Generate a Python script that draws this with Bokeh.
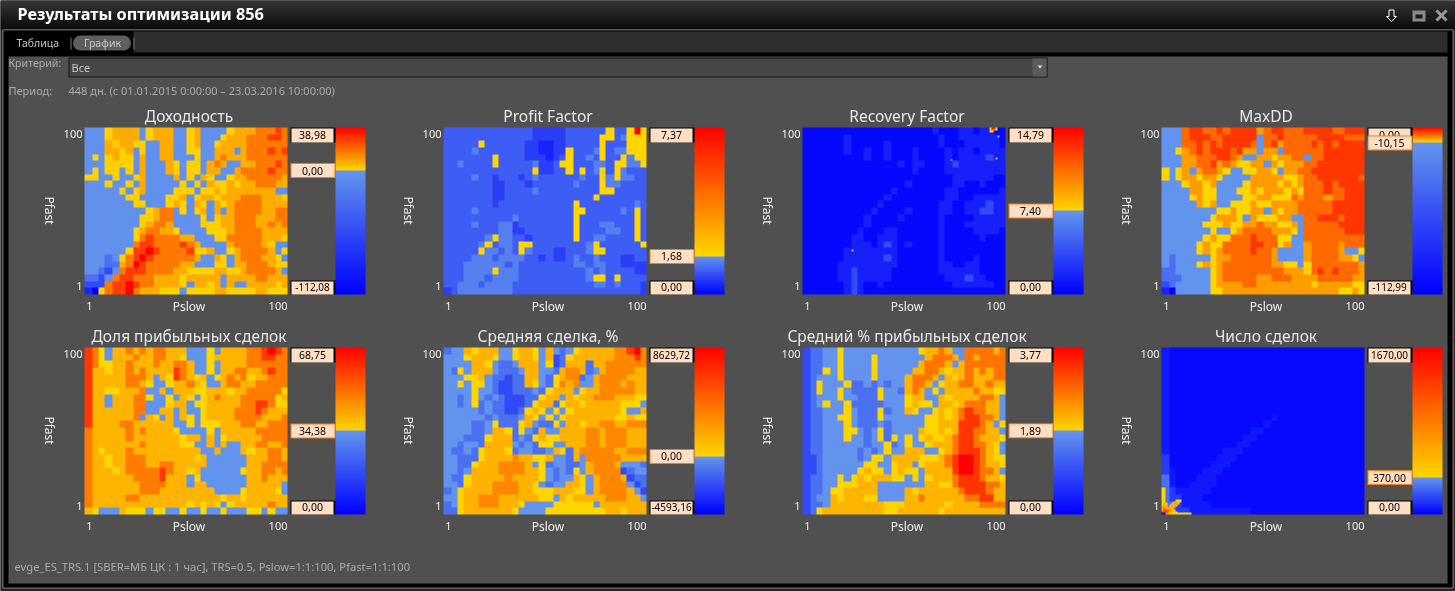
import math
import numpy as np
from bokeh.plotting import figure
from bokeh.models import LinearColorMapper, Range1d
from bokeh.core.properties import value
from bokeh.embed import file_html
from bokeh.resources import INLINE

WINDOW_TITLE = "Результаты оптимизации 856"
TABS = ["Таблица", "График"]
CRITERION_LABEL = "Критерий:"
CRITERION = "Все"
PERIOD_LABEL = "Период:"
PERIOD = "448 дн. (с 01.01.2015 0:00:00 – 23.03.2016 10:00:00)"
FOOTER = "evge_ES_TRS.1 [SBER=МБ ЦК : 1 час], TRS=0.5, Pslow=1:1:100, Pfast=1:1:100"
X_NAME = "Pslow"
Y_NAME = "Pfast"
TICKS = ["1", "100"]

TITLES = ["Доходность", "Profit Factor", "Recovery Factor", "MaxDD",
          "Доля прибыльных сделок", "Средняя сделка, %", "Средний % прибыльных сделок", "Число сделок"]
SCALE_LOW = [-112.08, 0.0, 0.0, -112.99, 0.0, -4593.16, 0.0, 0.0]
SCALE_MID = [0.0, 1.68, 7.40, -10.15, 34.38, 0.0, 1.89, 370.0]
SCALE_HIGH = [38.98, 7.37, 14.79, 0.0, 68.75, 8629.72, 3.77, 1670.0]
SCALE_TEXT = [("-112,08", "0,00", "38,98"), ("0,00", "1,68", "7,37"), ("0,00", "7,40", "14,79"),
              ("-112,99", "-10,15", "0,00"), ("0,00", "34,38", "68,75"), ("-4593,16", "0,00", "8629,72"),
              ("0,00", "1,89", "3,77"), ("0,00", "370,00", "1670,00")]

# Value read for each symbol of a grid, panel by panel (symbols 0..9)
VALUES_RETURN = [-112, -84, -56, -28, -3, 1, 8, 17, 28, 39]
VALUES_PF = [0.0, 0.4, 0.7, 1.05, 1.45, 1.7, 3.1, 4.5, 6.0, 7.37]
VALUES_RF = [0.4, 1.6, 3.7, 5.5, 7.3, 7.5, 9.2, 11.0, 13.0, 14.79]
VALUES_DD = [-113, -87, -62, -36, -11, -10, -7.5, -5, -2.5, 0]
VALUES_SHARE = [0, 8.6, 17.2, 25.8, 34, 34.6, 40, 49, 60, 68.75]
VALUES_AVG = [-4593, -3445, -2297, -1148, -50, 50, 1500, 3200, 6472, 8630]
VALUES_AVGWIN = [0, 0.47, 0.94, 1.42, 1.87, 1.9, 2.2, 2.75, 3.3, 3.77]
VALUES_COUNT = [20, 60, 150, 277, 365, 375, 695, 1020, 1345, 1670]

# Block readings, first row is Pfast=100, first column is Pslow=1
GRID_RETURN = """
44456 66645 66644 56444 45666 77787
44456 66645 66644 56444 56667 77887
44465 66554 46644 56445 66667 77777
44466 56454 46644 55446 66467 77878
45456 55464 46644 45446 76667 77777
44455 55464 44654 55467 64466 77787
45455 45464 44654 55466 44677 77877
55445 44564 44464 54654 45667 77776
44454 45464 44445 45465 56566 77766
44444 54564 44455 54556 56666 66644
44444 45544 44556 45665 66677 76665
44444 44554 44565 46546 56777 76666
44444 44445 67745 45646 46777 76677
44444 44455 67744 44545 66777 66677
44444 44456 77644 44555 66777 66767
44444 44567 76654 44455 56777 76666
44444 44578 77776 64445 57777 76665
44444 44788 77778 76444 46777 76544
44444 45889 87777 85564 45677 77645
44434 57898 77777 76446 54677 76654
44433 67987 77776 64445 54667 77655
44324 78887 77766 55556 65567 77764
33247 88777 66665 66666 46666 77666
22278 89877 66665 46656 46446 66656
10578 89766 65554 55556 65555 66555
"""
GRID_PF = """
33333 33333 33322 22233 33335 33595
33333 33333 33322 22233 33355 34555
33333 53333 33221 12233 33353 33555
33334 33333 33221 12253 33453 44555
33333 33533 33222 12353 34353 35455
33433 33533 33342 23553 33443 55445
33333 33333 33352 23353 53453 54333
33334 33233 32343 33333 43354 54433
33333 33223 33233 33334 33354 43333
33333 33223 33343 33333 33355 33333
33333 33223 33333 33333 33533 33333
33333 33233 33333 33335 33333 33343
33334 33333 33333 33335 53333 34353
33333 33333 43333 33335 33333 33353
33334 33344 23333 33335 33344 33353
33333 33344 22333 33335 33334 43353
33333 34544 33233 33335 33443 33353
33333 45344 35533 33333 34533 33335
33333 54434 35433 32233 34553 33333
33334 44344 44332 32234 33433 32233
33344 44443 43333 33334 43443 32222
33344 44544 43333 33333 34343 33322
33344 43444 43333 33333 34553 53333
33444 34444 33333 33333 33443 43332
23444 44444 33333 33333 33333 33332
"""
GRID_RF = """
00000 00000 00000 00001 00011 01100
00000 01000 00000 00000 10011 11110
00000 01000 00100 00000 10001 11110
00000 01001 00100 01000 01011 01111
00000 00001 00100 01000 01011 11211
00000 00000 00001 01100 01211 11111
00000 00000 00000 01000 01111 11111
00000 00000 00000 00000 00111 11100
00000 00000 00000 10000 00110 01000
00000 00000 00010 00000 01100 00001
00000 00000 00100 00000 01100 11111
00000 00000 01000 00000 11001 11211
00000 00000 10000 10000 11001 12211
00000 00001 00001 00000 10000 11111
00000 00001 00000 00000 10001 11111
00000 00010 00110 00000 10000 11110
00000 00110 01110 00000 10000 01000
00000 00111 01210 10000 10000 00000
00000 01111 11110 00000 10000 00000
00000 01111 11210 00000 10000 10000
00000 11111 11110 00000 11001 10000
00000 11211 11100 00000 11111 10000
00000 11211 11100 00000 01112 11000
00000 01210 01000 00000 00111 11100
00000 01210 00000 00000 00000 00000
"""
GRID_DD = """
44478 87787 88886 78877 78888 77888
44478 88778 88884 77877 77788 88777
44477 87878 88874 78677 77878 78888
44567 87888 78664 66477 77778 88888
44466 77788 76446 65667 74778 88888
44466 77867 65566 46566 67788 88888
54564 67765 44556 65466 77888 88888
54566 56654 44466 66655 67788 88887
44456 65644 44566 66565 67778 78888
44446 65544 45565 66656 57778 77888
44445 65544 44556 65557 67776 77888
44444 65644 55565 56666 77777 88888
44444 44455 65566 46566 77777 88888
44444 44566 65465 55664 47788 87888
44444 45556 55667 66556 47777 78888
44444 44544 56777 76665 47777 77888
44444 45655 77787 77554 47777 77777
44444 56557 77788 77564 46777 76777
44444 56567 77787 76444 46777 76445
43444 44566 77777 76444 46777 76654
43444 56567 77777 76655 45777 77776
33444 44567 77777 77766 65787 87776
33344 44567 77776 67776 66677 77766
23444 44566 66776 66666 66566 66655
10444 44556 66666 66666 66666 65565
"""
GRID_SHARE = """
87546 67676 77666 44454 66667 78987
87546 66766 77665 44456 66667 78877
87556 67666 76677 64454 66667 77777
86656 67676 66687 64454 66776 67877
86666 67776 46587 65645 67675 66777
86666 67765 44566 76544 67766 77777
86655 66674 46466 65566 65667 77775
86646 66775 44546 54567 66677 77756
86646 66774 44566 45566 66677 88755
86666 66774 46646 44566 66777 87666
86666 66746 54646 54566 66777 76667
86666 77666 66644 54555 66677 66777
76666 67676 66654 44454 66666 77777
76666 67666 66665 66464 56666 67777
76666 66676 66665 54464 64466 77667
76566 67666 66666 66446 44465 66776
76656 67776 66666 65644 44446 66776
76656 67776 67766 66644 44446 67777
76665 67777 78766 56444 44456 67767
76666 66777 78666 45444 44446 67666
76666 66677 77666 46644 44446 66664
76666 66677 76666 66664 44456 66654
76666 67766 66666 66666 56656 66666
76666 66666 66666 56565 45666 66766
65444 65554 55445 44544 54445 54544
"""
GRID_AVG = """
34465 66644 56654 64345 66666 77897
44456 66544 56654 62356 66666 77787
44446 65433 46664 52366 63667 77777
43546 66433 34664 43677 63467 77766
44455 64332 33664 35677 34677 77666
44545 54322 33654 35767 44677 76766
44445 44322 33343 56664 56677 77766
44345 43432 22335 66465 66777 66655
44345 34332 22356 63566 56666 65554
44444 34332 23565 45456 66666 65446
44444 43433 34654 54566 66666 55655
44443 34533 35643 35466 56677 66777
44443 34665 35436 44666 67767 77666
44433 35666 34356 55666 67767 77666
44344 36666 43435 54466 67767 77666
43343 56665 34433 46536 77777 66777
44333 56666 76655 64436 47777 76666
44335 66677 77645 34433 46777 64443
44346 66677 77665 43435 46777 72344
43356 66667 66665 43446 54677 76233
44356 66777 76654 34466 54677 77423
34566 66777 76655 56665 54677 77642
44566 77766 66665 54656 66667 77664
34566 77766 65444 45555 55466 66666
33566 66666 54444 55555 55556 65666
"""
GRID_AVGWIN = """
23344 54444 44444 44566 76447 77767
23344 54444 54444 44467 77647 67777
23344 54444 54444 44677 76467 77777
23354 54444 54444 46677 65667 67677
23444 54444 54444 67776 46567 66677
23544 45334 34344 67764 56677 66766
23544 54333 35443 67645 46666 76655
23444 54433 35444 56644 65666 67764
23454 45333 33444 56554 66567 77664
23344 45433 35344 65445 65678 77664
23344 55433 35444 44455 65678 87764
23344 45433 34344 44455 66688 87645
23344 45543 45344 44655 65688 77664
23344 45443 45354 54565 56788 76665
23344 44443 44534 54456 66788 77654
23344 44434 34544 66644 56788 87654
22344 44434 55466 66555 67899 87655
22344 44445 54456 64566 67899 87665
22344 44456 55456 55466 66899 87764
23344 54565 66655 45456 66788 87665
23344 55566 64444 44466 55788 88776
23345 56666 64444 65666 66678 88766
23446 56665 54444 66766 66667 78866
23346 66666 66555 66666 65666 67777
23566 66666 66556 66666 56666 66666
"""
GRID_COUNT = """
10000 00000 00000 00000 00000 00000
10000 00000 00000 00000 00000 00000
10000 00000 00000 00000 00000 00000
10000 00000 00000 00000 00000 00000
10000 00000 00000 00000 00000 00000
10000 00000 00000 00000 00000 00000
10000 00000 00000 00000 00000 00000
10000 00000 00000 00000 00000 00000
10000 00000 00000 00000 00000 00000
10000 00000 00000 00000 00000 00000
10000 00000 00000 01000 00000 00000
10000 00000 00000 10000 00000 00000
10000 00000 00011 00000 00000 00000
10000 00000 00110 00000 00000 00000
10000 00000 01100 00000 00000 00000
10000 00001 11000 00000 00000 00000
20000 00011 10000 00000 00000 00000
20000 00111 00000 00000 00000 00000
21000 01110 00000 00000 00000 00000
31000 11100 00000 00000 00000 00000
31001 11100 00000 00000 00000 00000
32111 11000 00000 00000 00000 00000
32211 10000 00000 00000 00000 00000
33211 11000 00000 00000 00000 00000
33221 11111 11100 00000 00000 00000
"""

# Isolated cells at full resolution: (first Pslow, top Pfast, rows); "." keeps the block reading
DETAIL_RF = [(93, 100, ["5985", "6655", "55"]), (97, 95, ["6"]), (96, 82, ["6"]), (74, 81, ["5"]), (25, 27, ["6"])]
DETAIL_COUNT = [(1, 16, ["55", "55", "55", "55", "55", "55", "55",
                         "55.....555", "55....5665", "565..5665", "565.5665", "6666665",
                         "676665", "6877665", "87966655", "006655555555555"])]

GRIDS = [GRID_RETURN, GRID_PF, GRID_RF, GRID_DD, GRID_SHARE, GRID_AVG, GRID_AVGWIN, GRID_COUNT]
VALUES = [VALUES_RETURN, VALUES_PF, VALUES_RF, VALUES_DD, VALUES_SHARE, VALUES_AVG, VALUES_AVGWIN, VALUES_COUNT]
DETAILS = [[], [], DETAIL_RF, [], [], [], [], DETAIL_COUNT]


def decode(grid, vals, detail):
    rows = [r.replace(" ", "") for r in grid.strip().splitlines()]
    out = np.zeros((100, 100))
    for i in range(100):
        row = rows[i * len(rows) // 100]
        for j in range(100):
            out[i, j] = vals[int(row[j * len(row) // 100])]
    for first, top, lines in detail:
        for k, line in enumerate(lines):
            for m, ch in enumerate(line):
                if ch != ".":
                    out[100 - top + k, first - 1 + m] = vals[int(ch)]
    return out[::-1]


def hexcol(c):
    return "#%02x%02x%02x" % tuple(int(round(v)) for v in c)


def palette(lo, mid, hi, n=512):
    res = []
    for i in range(n):
        v = lo + (hi - lo) * (i + 0.5) / n
        if v < mid:
            t = (v - lo) / (mid - lo)
            res.append(hexcol((0 + 100 * t, 0 + 149 * t, 255 - 18 * t)))
        else:
            t = (v - mid) / (hi - mid)
            res.append(hexcol((255, 215 - 215 * t, 0)))
    return res


W, H = 1455, 591
p = figure(width=W, height=H, x_range=(0, W), y_range=(H, 0), output_backend="svg",
           toolbar_location=None, x_axis_type=None, y_axis_type=None, min_border=0,
           background_fill_color="#000000", border_fill_color="#000000", outline_line_color=None,
           styles={"position": "fixed", "left": "0px", "top": "0px"})
p.grid.visible = False

FONT = "Noto Sans"


def box(x0, y0, x1, y1, color):
    p.quad(left=[x0], right=[x1], top=[y0], bottom=[y1], fill_color=color, line_color=None)


def txt(x, y, s, size=11, color="#aaaaaa", align="left", bold=False, angle=0.0, font=FONT):
    p.text(x=[x], y=[y - 0.5], text=[s], text_font=value(font), text_font_size=f"{size}px", text_color=color,
           text_align=align, text_baseline="middle", angle=angle,
           text_font_style="bold" if bold else "normal")


# window chrome
box(0, 0, W, H, "#262626")
for yy in range(29):
    g = 58 - 2 * yy
    box(0, yy, W, yy + 1, hexcol((g, g, g)))
p.line([2.5, 1452.5, 1452.5, 2.5, 2.5], [29.5, 29.5, 587.5, 587.5, 29.5], line_color="#9a9a9a", line_width=1)
box(3, 30, 1452, 587, "#000000")
box(133, 31, 1447, 52, "#2e2e2e")
box(8, 56, 1447, 583, "#505050")
txt(17, 14, WINDOW_TITLE, 16.3, "#ffffff", bold=True)
txt(16, 43, TABS[0], 10.5, "#c4c4c4")
box(70, 37, 71, 49, "#777777")
p.line([80, 123], [42.5, 42.5], line_width=15, line_cap="round", line_color="#5e5e5e")
txt(102, 43, TABS[1], 10.5, "#c8c8c8", align="center")
box(133, 37, 134, 49, "#777777")
# window buttons
p.patch([1388.5, 1393.5, 1393.5, 1396, 1391, 1386, 1388.5], [9.5, 9.5, 16, 16, 21, 16, 16],
        fill_color=None, line_color="#ffffff", line_width=1)
box(1412, 10, 1425, 21, "#8a8a8a")
box(1415, 14, 1422, 18, "#1a1a1a")
p.multi_line([[1436, 1446], [1446, 1436]], [[10, 20], [10, 20]], line_color="#999999", line_width=3)
# criterion bar
txt(8, 63, CRITERION_LABEL, 10.6)
box(68, 57, 1047, 77, "#111111")
box(69, 58, 1046, 76, "#464646")
box(1032, 58, 1046, 76, "#5a5a5a")
p.patch([1037, 1042, 1039.5], [65, 65, 68], fill_color="#dddddd", line_color=None)
txt(71, 67, CRITERION, 11, "#c8c8c8")
txt(8, 90, PERIOD_LABEL, 11)
txt(68, 90, PERIOD, 11)
txt(14, 566, FOOTER, 11.2)

# panels
LEFTS = [84, 443, 802, 1161]
TOPS = [127, 347]
HM_W, HM_H = 203, 167
BAR_W = 30
for idx, title in enumerate(TITLES):
    L = LEFTS[idx % 4]
    T = TOPS[idx // 4]
    R = L + HM_W
    B = T + HM_H
    BL = R + 48
    lo, mid, hi = SCALE_LOW[idx], SCALE_MID[idx], SCALE_HIGH[idx]
    mapper = LinearColorMapper(palette=palette(lo, mid, hi), low=lo, high=hi)

    xn, yn = f"sx{idx}", f"sy{idx}"
    span = 100.0
    p.extra_x_ranges[xn] = Range1d(0.5 - L / HM_W * span, 0.5 + (W - L) / HM_W * span)
    p.extra_y_ranges[yn] = Range1d(0.5 - (H - B) / HM_H * span, 0.5 + B / HM_H * span)
    p.image(image=[decode(GRIDS[idx], VALUES[idx], DETAILS[idx])], x=0.5, y=0.5, dw=100, dh=100,
            color_mapper=mapper, x_range_name=xn, y_range_name=yn)

    # scale bar on its own value scale
    bar_y = f"by{idx}"
    vspan = hi - lo
    p.extra_y_ranges[bar_y] = Range1d(lo - (H - B) / HM_H * vspan, lo + B / HM_H * vspan)
    p.image(image=[np.linspace(lo, hi, 512)[:, None]], x=BL, y=lo, dw=BAR_W, dh=vspan,
            color_mapper=mapper, y_range_name=bar_y)

    txt((L + R) / 2 + 3, T - 11, title, 15.5, "#e8e8e8", align="center")
    txt(L - 2, T + 7, TICKS[1], 11, "#f0f0f0", align="right")
    txt(L - 2, B - 8, TICKS[0], 11, "#f0f0f0", align="right")
    txt(L + 5, B + 12, TICKS[0], 11, "#f0f0f0", align="center")
    txt(R, B + 12, TICKS[1], 11, "#f0f0f0", align="right")
    txt((L + R) / 2 + 3, B + 12, X_NAME, 12, "#f0f0f0", align="center")
    txt(L - 35, (T + B) / 2, Y_NAME, 12, "#f0f0f0", align="center", angle=-math.pi / 2)

    tx0, tx1 = R + 3, BL - 1
    tc = (tx0 + tx1) / 2
    lo_t, mid_t, hi_t = SCALE_TEXT[idx]
    # top and bottom value boxes
    box(tx0, T, tx1 + 1, T + 15, "#000000")
    box(tx0 + 1, T + 1, tx1 - 1, T + 15, "#ffdfc4")
    txt(tc, T + 8, hi_t, 10.5 if len(hi_t) < 7 else 10, "#000000", align="center")
    box(tx0, B - 14, tx1 + 1, B, "#000000")
    box(tx0 + 1, B - 13, tx1 - 1, B, "#ffdfc4")
    txt(tc, B - 7, lo_t, 10.5 if len(lo_t) < 7 else 10, "#000000", align="center")
    # threshold box
    ym = T + HM_H * (hi - mid) / vspan
    ym = max(ym, T + 15.5)
    box(tx0, ym - 7.5, tx1 + 1, ym + 7.5, "#f07c1e")
    box(tx0 + 1, ym - 6.5, tx1, ym + 6.5, "#ffdfc4")
    txt(tc, ym + 0.5, mid_t, 10.5, "#000000", align="center")

open("out.html", "w").write(file_html(p, INLINE))
